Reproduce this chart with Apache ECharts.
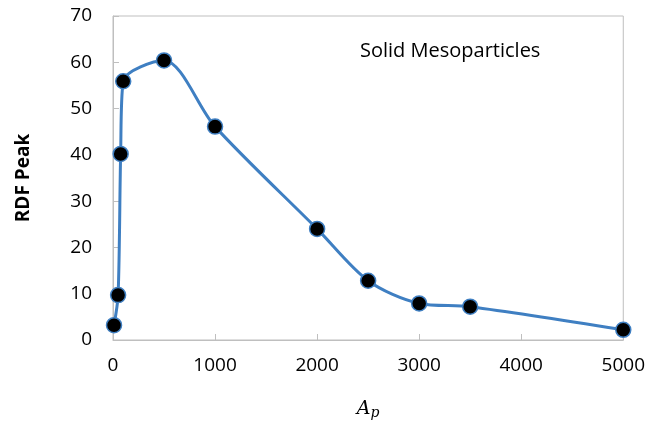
<!DOCTYPE html>
<html><head><meta charset="utf-8">
<script src="https://cdn.jsdelivr.net/npm/echarts@6/dist/echarts.min.js"></script>
<style>html,body{margin:0;padding:0;background:#fff}#c{width:648px;height:432px}</style>
</head><body><div id="c"></div>
<script>
const apValues = [10, 50, 75, 100, 500, 1000, 2000, 2500, 3000, 3500, 5000];
const rdfPeak = [3.2, 9.7, 40.2, 55.9, 60.4, 46.1, 24.0, 12.8, 7.9, 7.2, 2.2];
const xTicks = [0, 1000, 2000, 3000, 4000, 5000];
const yTicks = [0, 10, 20, 30, 40, 50, 60, 70];
const seriesLabel = 'Solid Mesoparticles';

const chart = echarts.init(document.getElementById('c'), null, {renderer: 'canvas'});
const font = 'Open Sans, Liberation Sans, sans-serif';
chart.setOption({
  animation: false,
  grid: {left: 113, right: 24, top: 16, bottom: 92, show: true, borderColor: '#bfbfbf', borderWidth: 1},
  xAxis: {
    type: 'value', min: xTicks[0], max: xTicks[xTicks.length - 1], interval: 1000,
    name: '{a|A}{p|p}', nameLocation: 'middle', nameGap: 58,
    nameTextStyle: {rich: {
      a: {fontFamily: 'DejaVu Serif, serif', fontStyle: 'italic', fontSize: 19, color: '#000'},
      p: {fontFamily: 'DejaVu Serif, serif', fontStyle: 'italic', fontSize: 14, color: '#000', verticalAlign: 'bottom', padding: [8, 0, 0, 0]}
    }},
    axisLine: {lineStyle: {color: '#bfbfbf'}},
    axisTick: {inside: true, length: 6, lineStyle: {color: '#bfbfbf'}},
    axisLabel: {color: '#000', fontSize: 19, fontFamily: font, margin: 16, formatter: v => String(v)},
    splitLine: {show: false}
  },
  yAxis: {
    type: 'value', min: yTicks[0], max: yTicks[yTicks.length - 1], interval: 10,
    name: 'RDF Peak', nameLocation: 'middle', nameGap: 80,
    nameTextStyle: {color: '#000', fontSize: 19, fontWeight: 'bold', fontFamily: font},
    axisLine: {show: true, lineStyle: {color: '#bfbfbf'}},
    axisTick: {show: true, inside: true, length: 6, lineStyle: {color: '#bfbfbf'}},
    axisLabel: {color: '#000', fontSize: 19, fontFamily: font, margin: 21, formatter: v => String(v)},
    splitLine: {show: false}
  },
  title: {
    text: seriesLabel, left: 355, top: 36,
    textStyle: {fontSize: 20, fontWeight: 'normal', color: '#000', fontFamily: font}
  },
  series: [{
    type: 'line', smooth: 0.3,
    data: apValues.map((x, i) => [x, rdfPeak[i]]),
    lineStyle: {color: '#3f7fc2', width: 3},
    symbol: 'circle', symbolSize: 15,
    itemStyle: {color: '#000', borderColor: '#3f7fc2', borderWidth: 1.5}
  }]
});
</script></body></html>
